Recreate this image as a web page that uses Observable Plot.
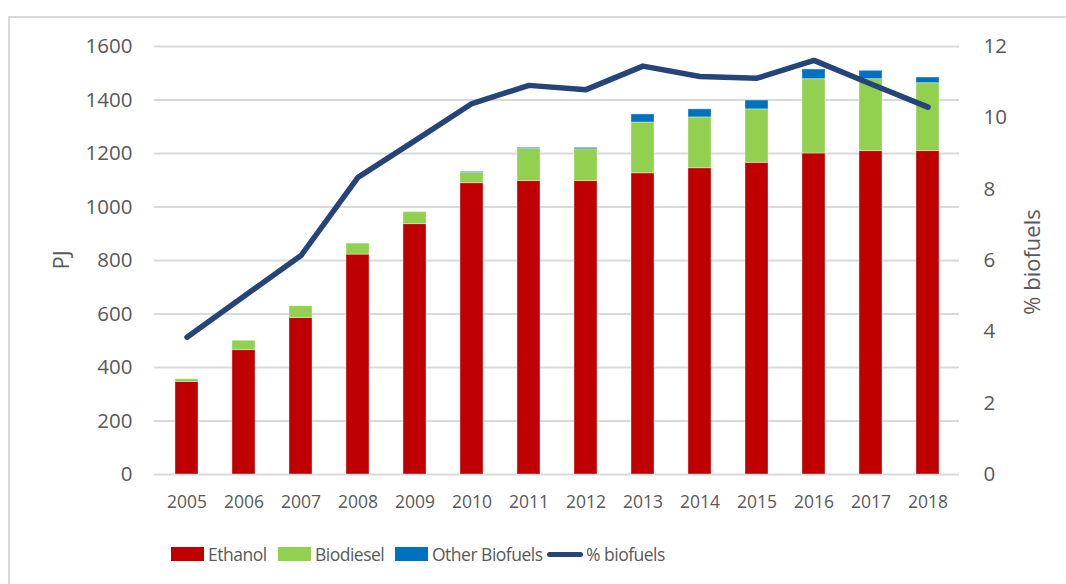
<!DOCTYPE html>
<html>
<head>
<meta charset="utf-8">
<script src="https://cdn.jsdelivr.net/npm/d3@7"></script>
<script src="https://cdn.jsdelivr.net/npm/@observablehq/plot@0.6"></script>
<style>
  html, body { margin: 0; padding: 0; background: #fff; overflow: hidden; }
  body { width: 1066px; height: 584px; position: relative; font-family: "Open Sans", sans-serif; color: #595959; }
  #frame { position: absolute; left: 8px; top: 16px; width: 1200px; height: 700px; border: 2px solid #d9d9d9; box-sizing: border-box; pointer-events: none; }
  #chart { position: absolute; left: 0; top: 0; }
  .atitle { position: absolute; font-size: 22px; color: #595959; white-space: nowrap; transform: translate(-50%, -50%) rotate(-90deg); line-height: 1; }
  #legend { position: absolute; left: 0; top: 543px; width: 1066px; height: 22px; font-size: 17.5px; letter-spacing: -0.5px; color: #595959; white-space: nowrap; }
  .item { position: absolute; top: 0; height: 22px; display: flex; align-items: center; }
  .sw { width: 33px; height: 14px; margin-right: 4px; }
  .ln { width: 36px; height: 5px; border-radius: 3px; margin-right: 3px; }
</style>
</head>
<body>
<div id="frame"></div>
<div id="chart"></div>
<div id="ytitleL" class="atitle" style="left:60px; top:260px;"></div>
<div id="ytitleR" class="atitle" style="left:1031px; top:262px;"></div>
<div id="legend"></div>
<script>
const years = ["2005","2006","2007","2008","2009","2010","2011","2012","2013","2014","2015","2016","2017","2018"];
const ethanol   = [346, 465, 585, 822, 936, 1089, 1097, 1097, 1126, 1145, 1165, 1200, 1209, 1209];
const biodiesel = [10, 35, 44, 41, 45, 38, 120, 119, 190, 190, 200, 278, 269, 254];
const other     = [0, 0, 0, 0, 0, 4, 4, 5, 30, 30, 33, 36, 31, 21];
const pctBiofuels = [3.85, 5.0, 6.14, 8.33, 9.36, 10.40, 10.91, 10.79, 11.45, 11.16, 11.11, 11.61, 10.95, 10.30];

const seriesNames = ["Ethanol", "Biodiesel", "Other Biofuels"];
const seriesColors = ["#C00000", "#92D050", "#0070C0"];
const lineName = "% biofuels";
const lineColor = "#264478";
const leftTitle = "PJ";
const leftTicks = [0, 200, 400, 600, 800, 1000, 1200, 1400, 1600];
const rightTicks = [0, 2, 4, 6, 8, 10, 12];
const pjMax = 1600, pctMax = 12;

const bars = [];
years.forEach((y, i) => {
  [ethanol, biodiesel, other].forEach((arr, k) => bars.push({year: y, series: seriesNames[k], value: arr[i]}));
});
const line = years.map((y, i) => ({year: y, pct: pctBiofuels[i]}));
const toPJ = v => v * pjMax / pctMax;

const plot = Plot.plot({
  width: 1066,
  height: 530,
  marginTop: 46,
  marginBottom: 56,
  marginLeft: 154,
  marginRight: 107,
  style: {fontFamily: "Open Sans", color: "#595959", background: "transparent", overflow: "visible"},
  x: {domain: years, paddingInner: 0.6, paddingOuter: 0.3, label: null},
  y: {domain: [0, pjMax], label: null},
  color: {domain: seriesNames, range: seriesColors},
  marks: [
    Plot.gridY(leftTicks, {stroke: "#d9d9d9", strokeOpacity: 1, strokeWidth: 2}),
    Plot.barY(bars, {x: "year", y: "value", fill: "series", order: seriesNames, stroke: "#fff", strokeOpacity: 0.35, strokeWidth: 1}),
    Plot.lineY(line, {x: "year", y: d => toPJ(d.pct), stroke: lineColor, strokeWidth: 5.5, strokeLinecap: "round", strokeLinejoin: "round"}),
    Plot.axisX({tickSize: 0, tickPadding: 21, fontSize: 17.5, label: null}),
    Plot.axisY(leftTicks, {anchor: "left", tickSize: 0, tickPadding: 22, fontSize: 20.5, tickFormat: d => String(d), label: null}),
    Plot.axisY(rightTicks.map(toPJ), {anchor: "right", tickSize: 0, tickPadding: 24, fontSize: 20.5, tickFormat: d => String(Math.round(d * pctMax / pjMax)), label: null})
  ]
});
document.getElementById("chart").appendChild(plot);
document.getElementById("ytitleL").textContent = leftTitle;
document.getElementById("ytitleR").textContent = lineName;

// legend item left edges (px), matching the reference layout
const legendX = [171, 278, 395, 547];
const legend = document.getElementById("legend");
seriesNames.forEach((n, k) => {
  const it = document.createElement("div"); it.className = "item"; it.style.left = legendX[k] + "px";
  it.innerHTML = `<div class="sw" style="background:${seriesColors[k]}"></div><span>${n}</span>`;
  legend.appendChild(it);
});
const it = document.createElement("div"); it.className = "item"; it.style.left = legendX[3] + "px";
it.innerHTML = `<div class="ln" style="background:${lineColor}"></div><span>${lineName}</span>`;
legend.appendChild(it);
</script>
</body>
</html>
